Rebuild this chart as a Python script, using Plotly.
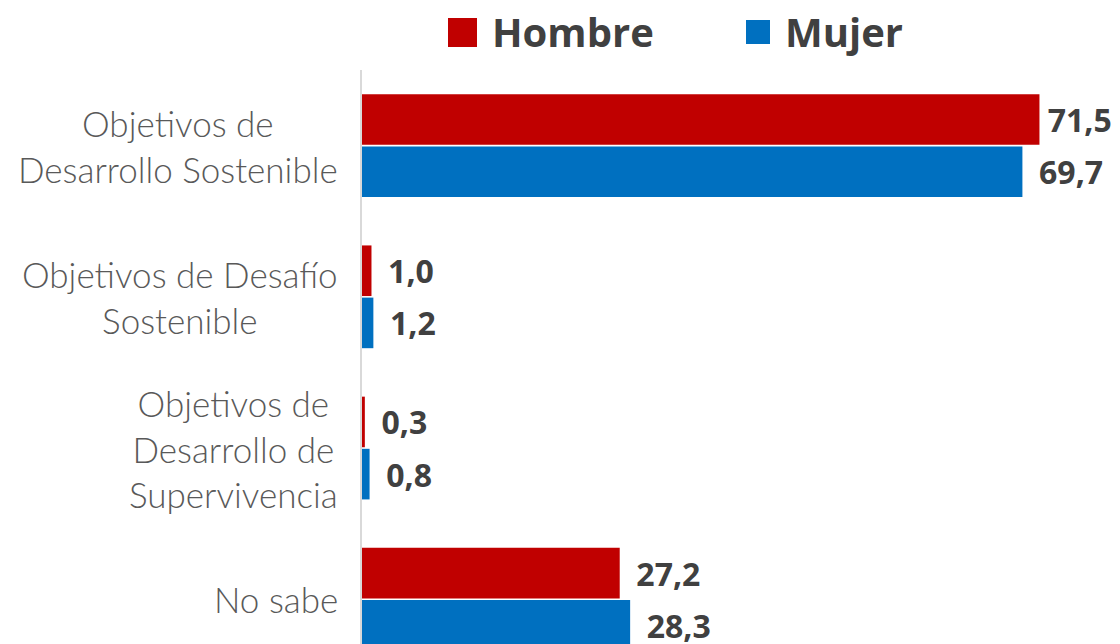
import plotly.graph_objects as go

categories = ["ODS", "ODesS", "ODSup", "NS"]
tick_labels = [
    "Objetivos de<br>Desarrollo Sostenible",
    "Objetivos de Desafío<br>Sostenible",
    "Objetivos de<br>Desarrollo de<br>Supervivencia",
    "No sabe",
]
series_names = ["Hombre", "Mujer"]
hombre = [71.5, 1.0, 0.3, 27.2]
mujer = [69.7, 1.2, 0.8, 28.3]
colors = ["#C00000", "#0070C0"]

PAD = "\u00a0\u2009"
fig = go.Figure()
for name, vals, col in zip(series_names, [hombre, mujer], colors):
    # the label of the longest bar sits closer to the bar so it fits in the frame
    tmpl = [("\u2009" if v == max(hombre + mujer) else PAD) + "%{x:.1f}" for v in vals]
    fig.add_trace(go.Bar(
        y=categories, x=vals, name=name, orientation="h",
        marker=dict(color=col, line=dict(width=0)),
        texttemplate=tmpl, textposition="outside",
        constraintext="none", cliponaxis=False,
        textfont=dict(family="Open Sans", size=32, color="#404040", weight="bold"),
        showlegend=False, hoverinfo="skip",
    ))

# category labels (centered multi-line)
for cat, lab in zip(categories, tick_labels):
    fig.add_annotation(
        x=0, y=cat, xref="x", yref="y", text=lab, showarrow=False,
        xanchor="right", yanchor="middle", align="center", xshift=-22,
        font=dict(family="Lato", size=35, color="#595959", weight=300),
    )

# custom legend
W, H = 758, 574
leg = [(series_names[0], colors[0], 448, 477, 18, 47, 490),
       (series_names[1], colors[1], 746, 770, 20, 44, 783)]
for name, col, px0, px1, py0, py1, tx in leg:
    fig.add_shape(type="rect", xref="paper", yref="paper",
                  x0=(px0 - 362) / W, x1=(px1 - 362) / W,
                  y0=1 + (70 - py1) / H, y1=1 + (70 - py0) / H,
                  fillcolor=col, line=dict(width=0))
    fig.add_annotation(x=(tx - 362) / W, y=1 + (70 - 31) / H, xref="paper", yref="paper",
                       text=name, showarrow=False, xanchor="left", yanchor="middle",
                       font=dict(family="Open Sans", size=40, color="#404040", weight="bold"))

fig.update_layout(
    width=1120, height=644,
    margin=dict(l=362, r=0, t=70, b=0),
    barmode="group", bargap=0.31, bargroupgap=0.03,
    separators=",.",
    plot_bgcolor="white", paper_bgcolor="white",
    hovermode=False,
    xaxis=dict(range=[0, 80], visible=False, showgrid=False, zeroline=False),
    yaxis=dict(categoryorder="array", categoryarray=categories,
               range=[3.296, -0.5], showticklabels=False, showgrid=False,
               showline=True, linecolor="#D9D9D9", linewidth=2, ticks=""),
)

fig.write_html(
    "out.html",
    config={"displayModeBar": False, "staticPlot": True},
    post_script="document.body.style.margin='0';document.body.style.padding='0';document.body.style.overflow='hidden';",
)
